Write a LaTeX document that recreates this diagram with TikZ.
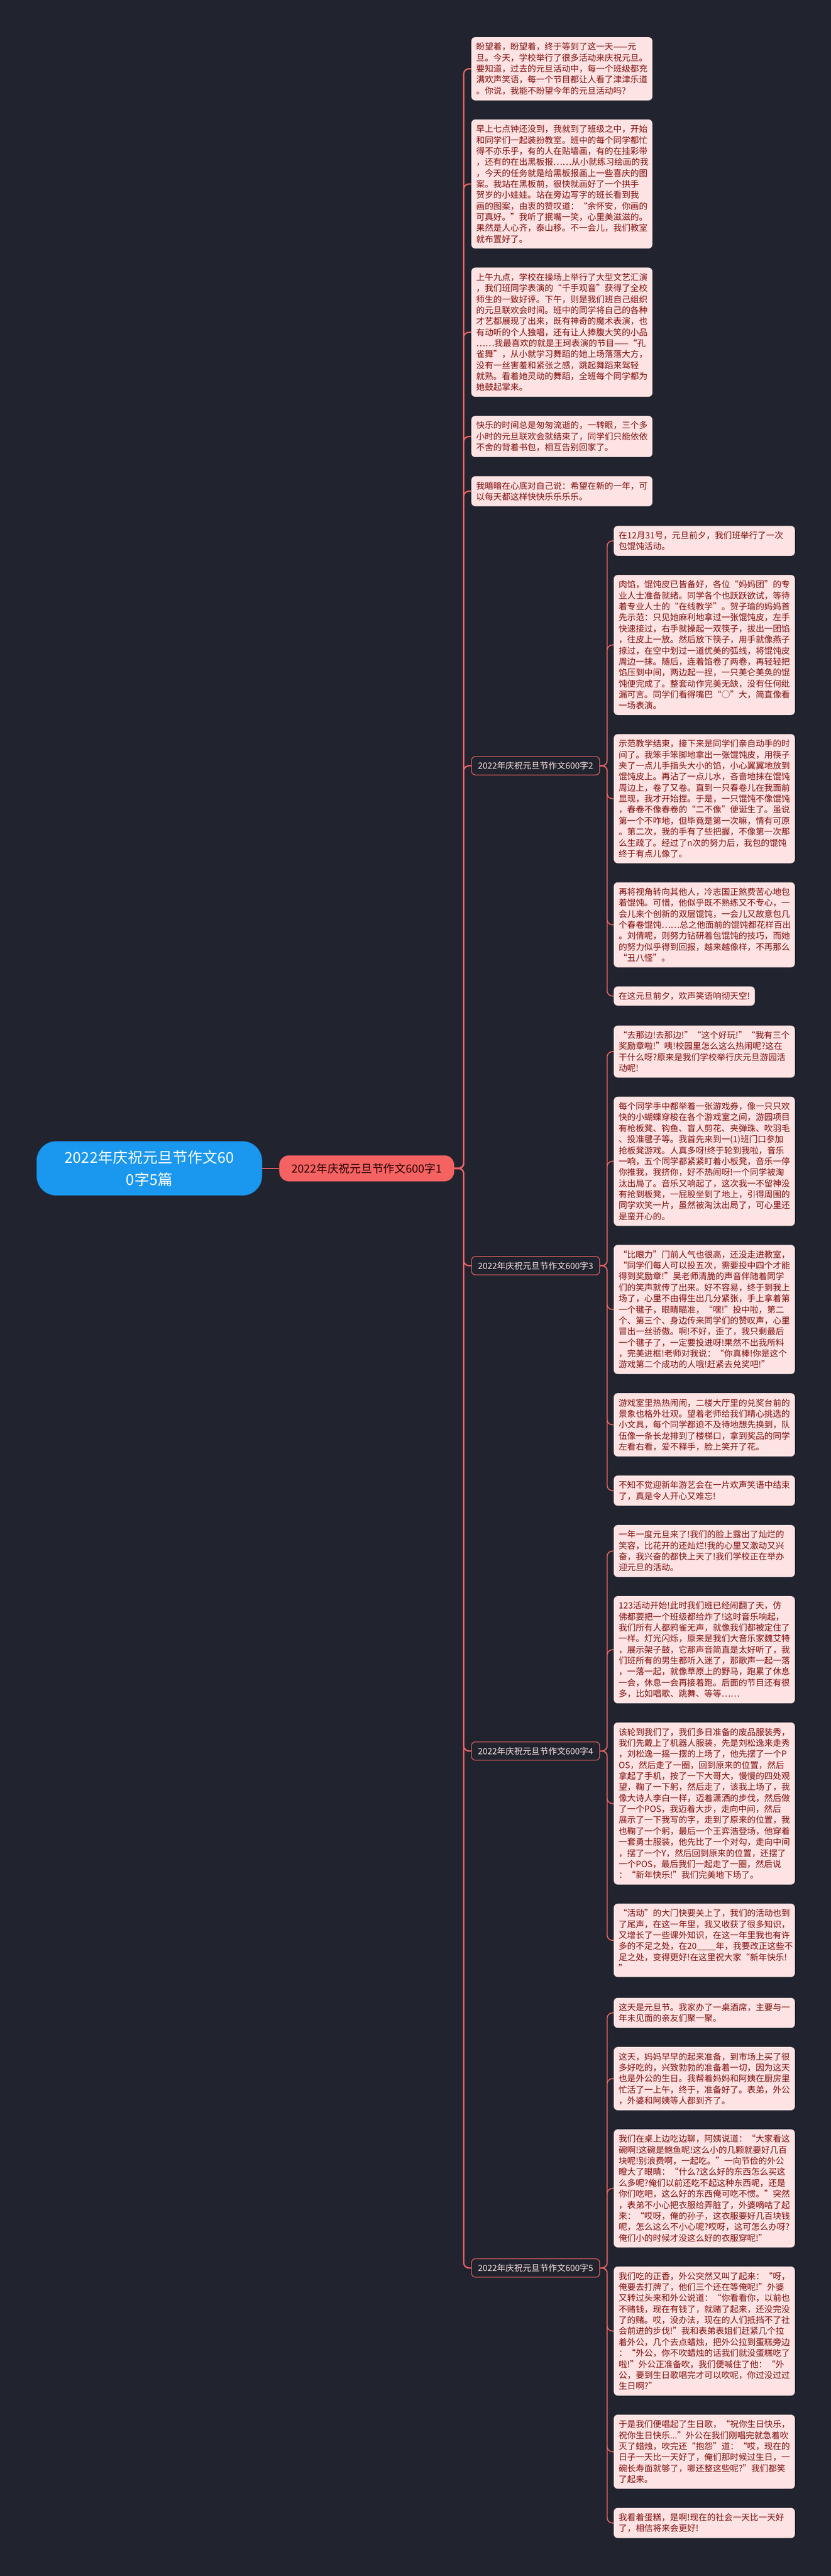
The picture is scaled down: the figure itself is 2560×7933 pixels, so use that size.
\documentclass[tikz,border=0pt]{standalone}
\usepackage{fontspec}
\setmainfont{Noto Sans CJK SC}
\usepackage{xcolor}
\usetikzlibrary{positioning}
\definecolor{bgdark}{HTML}{21242F}
\definecolor{leafpink}{HTML}{FDE3E3}
\definecolor{leaftext}{HTML}{800D0D}
\definecolor{linkred}{HTML}{EE6464}
\definecolor{mainred}{HTML}{F56262}
\definecolor{rootblue}{HTML}{1A97EE}
\begin{document}
\begin{tikzpicture}[x=0.5pt,y=-0.5pt,
    leafbase/.style={fill=leafpink,text=leaftext,rounded corners=6pt,inner xsep=7.5pt,inner ysep=8.5pt,align=left,font=\fontsize{13.2pt}{16.95pt}\selectfont},
    leaf/.style={leafbase,text width=264pt},
    sub/.style={draw=linkred,line width=1pt,fill=bgdark,text=leafpink,rounded corners=6pt,inner xsep=10pt,inner ysep=8pt,font=\fontsize{13.2pt}{16pt}\selectfont},
    mainnode/.style={fill=mainred,text=black!85!red,rounded corners=15pt,minimum width=269.5pt,minimum height=40pt,font=\fontsize{17.25pt}{20pt}\selectfont},
    rootnode/.style={fill=rootblue,draw=rootblue!60!black,text=white,rounded corners=30pt,minimum width=347.5pt,minimum height=83.5pt,align=center,font=\fontsize{23pt}{33.5pt}\selectfont}]
  \fill[bgdark] (0,0) rectangle (2560,7933);

  \node[leaf,anchor=north west] (a1) at (1452,114) {盼望着，盼望着，终于等到了这一天——元\\旦。今天，学校举行了很多活动来庆祝元旦。\\要知道，过去的元旦活动中，每一个班级都充\\满欢声笑语，每一个节目都让人看了津津乐道\\。你说，我能不盼望今年的元旦活动吗?};
  \node[leaf,below=29pt of a1.south west,anchor=north west] (a2) {早上七点钟还没到，我就到了班级之中，开始\\和同学们一起装扮教室。班中的每个同学都忙\\得不亦乐乎，有的人在贴墙画，有的在挂彩带\\，还有的在出黑板报……从小就练习绘画的我\\，今天的任务就是给黑板报画上一些喜庆的图\\案。我站在黑板前，很快就画好了一个拱手\\贺岁的小娃娃。站在旁边写字的班长看到我\\画的图案，由衷的赞叹道：“余怀安，你画的\\可真好。”我听了抿嘴一笑，心里美滋滋的。\\果然是人心齐，泰山移。不一会儿，我们教室\\就布置好了。};
  \node[leaf,below=29pt of a2.south west,anchor=north west] (a3) {上午九点，学校在操场上举行了大型文艺汇演\\，我们班同学表演的“千手观音”获得了全校\\师生的一致好评。下午，则是我们班自己组织\\的元旦联欢会时间。班中的同学将自己的各种\\才艺都展现了出来，既有神奇的魔术表演，也\\有动听的个人独唱，还有让人捧腹大笑的小品\\……我最喜欢的就是王珂表演的节目——“孔\\雀舞”，从小就学习舞蹈的她上场落落大方，\\没有一丝害羞和紧张之感，跳起舞蹈来驾轻\\就熟。看着她灵动的舞蹈，全班每个同学都为\\她鼓起掌来。};
  \node[leaf,below=29pt of a3.south west,anchor=north west] (a4) {快乐的时间总是匆匆流逝的，一转眼，三个多\\小时的元旦联欢会就结束了，同学们只能依依\\不舍的背着书包，相互告别回家了。};
  \node[leaf,below=29pt of a4.south west,anchor=north west] (a5) {我暗暗在心底对自己说：希望在新的一年，可\\以每天都这样快快乐乐乐乐。};

  \node[leaf,anchor=north west] (b1) at (1891,1619) {在12月31号，元旦前夕，我们班举行了一次\\包馄饨活动。};
  \node[leaf,below=29pt of b1.south west,anchor=north west] (b2) {肉馅，馄饨皮已皆备好，各位“妈妈团”的专\\业人士准备就绪。同学各个也跃跃欲试，等待\\着专业人士的“在线教学”。贺子瑜的妈妈首\\先示范：只见她麻利地拿过一张馄饨皮，左手\\快速接过，右手就操起一双筷子，拔出一团馅\\，往皮上一放。然后放下筷子，用手就像燕子\\掠过，在空中划过一道优美的弧线，将馄饨皮\\周边一抹。随后，连着馅卷了两卷，再轻轻把\\馅压到中间，两边起一捏，一只美仑美奂的馄\\饨便完成了。整套动作完美无缺，没有任何纰\\漏可言。同学们看得嘴巴“○”大，简直像看\\一场表演。};
  \node[leaf,below=29pt of b2.south west,anchor=north west] (b3) {示范教学结束，接下来是同学们亲自动手的时\\间了。我笨手笨脚地拿出一张馄饨皮，用筷子\\夹了一点儿手指头大小的馅，小心翼翼地放到\\馄饨皮上。再沾了一点儿水，吝啬地抹在馄饨\\周边上，卷了又卷。直到一只春卷儿在我面前\\显现，我才开始捏。于是，一只馄饨不像馄饨\\，春卷不像春卷的“二不像”便诞生了。虽说\\第一个不咋地，但毕竟是第一次嘛，情有可原\\。第二次，我的手有了些把握，不像第一次那\\么生疏了。经过了n次的努力后，我包的馄饨\\终于有点儿像了。};
  \node[leaf,below=29pt of b3.south west,anchor=north west] (b4) {再将视角转向其他人，冷志国正煞费苦心地包\\着馄饨。可惜，他似乎既不熟练又不专心，一\\会儿来个创新的双层馄饨，一会儿又故意包几\\个春卷馄饨……总之他面前的馄饨都花样百出\\。刘倩呢，则努力钻研着包馄饨的技巧，而她\\的努力似乎得到回报，越来越像样，不再那么\\“丑八怪”。};
  \node[leafbase,below=29pt of b4.south west,anchor=north west] (b5) {在这元旦前夕，欢声笑语响彻天空!};

  \node[leaf,anchor=north west] (c1) at (1891,3158) {“去那边!去那边!”“这个好玩!”“我有三个\\奖励章啦!”咦!校园里怎么这么热闹呢?这在\\干什么呀?原来是我们学校举行庆元旦游园活\\动呢!};
  \node[leaf,below=29pt of c1.south west,anchor=north west] (c2) {每个同学手中都举着一张游戏券，像一只只欢\\快的小蝴蝶穿梭在各个游戏室之间，游园项目\\有枪板凳、钩鱼、盲人剪花、夹弹珠、吹羽毛\\、投准毽子等。我首先来到一(1)班门口参加\\抢板凳游戏。人真多呀!终于轮到我啦，音乐\\一响，五个同学都紧紧盯着小板凳，音乐一停\\你推我，我挤你，好不热闹呀!一个同学被淘\\汰出局了。音乐又响起了，这次我一不留神没\\有抢到板凳，一屁股坐到了地上，引得周围的\\同学欢笑一片，虽然被淘汰出局了，可心里还\\是蛮开心的。};
  \node[leaf,below=29pt of c2.south west,anchor=north west] (c3) {“比眼力”门前人气也很高，还没走进教室，\\“同学们每人可以投五次，需要投中四个才能\\得到奖励章!”吴老师清脆的声音伴随着同学\\们的笑声就传了出来。好不容易，终于到我上\\场了，心里不由得生出几分紧张，手上拿着第\\一个毽子，眼睛瞄准，“嘿!”投中啦，第二\\个、第三个、身边传来同学们的赞叹声，心里\\冒出一丝骄傲。啊!不好，歪了，我只剩最后\\一个毽子了，一定要投进呀!果然不出我所料\\，完美进框!老师对我说：“你真棒!你是这个\\游戏第二个成功的人哦!赶紧去兑奖吧!”};
  \node[leaf,below=29pt of c3.south west,anchor=north west] (c4) {游戏室里热热闹闹，二楼大厅里的兑奖台前的\\景象也格外壮观。望着老师给我们精心挑选的\\小文具，每个同学都迫不及待地想先换到，队\\伍像一条长龙排到了楼梯口，拿到奖品的同学\\左看右看，爱不释手，脸上笑开了花。};
  \node[leaf,below=29pt of c4.south west,anchor=north west] (c5) {不知不觉迎新年游艺会在一片欢声笑语中结束\\了，真是令人开心又难忘!};

  \node[leaf,anchor=north west] (d1) at (1891,4696) {一年一度元旦来了!我们的脸上露出了灿烂的\\笑容，比花开的还灿烂!我的心里又激动又兴\\奋，我兴奋的都快上天了!我们学校正在举办\\迎元旦的活动。};
  \node[leaf,below=29pt of d1.south west,anchor=north west] (d2) {123活动开始!此时我们班已经闹翻了天，仿\\佛都要把一个班级都给炸了!这时音乐响起，\\我们所有人都鸦雀无声，就像我们都被定住了\\一样。灯光闪烁，原来是我们大音乐家魏艾特\\，展示架子鼓，它那声音简直是太好听了，我\\们班所有的男生都听入迷了，那歌声一起一落\\，一落一起，就像草原上的野马，跑累了休息\\一会，休息一会再接着跑。后面的节目还有很\\多，比如唱歌、跳舞、等等……};
  \node[leaf,below=29pt of d2.south west,anchor=north west] (d3) {该轮到我们了，我们多日准备的废品服装秀，\\我们先戴上了机器人服装，先是刘松逸来走秀\\，刘松逸一摇一摆的上场了，他先摆了一个P\\OS，然后走了一圈，回到原来的位置，然后\\拿起了手机，按了一下大哥大，慢慢的四处观\\望，鞠了一下躬，然后走了，该我上场了，我\\像大诗人李白一样，迈着潇洒的步伐，然后做\\了一个POS，我迈着大步，走向中间，然后\\展示了一下我写的字，走到了原来的位置，我\\也鞠了一个躬，最后一个王弈浩登场，他穿着\\一套勇士服装，他先比了一个对勾，走向中间\\，摆了一个Y，然后回到原来的位置，还摆了\\一个POS，最后我们一起走了一圈，然后说\\：“新年快乐!”我们完美地下场了。};
  \node[leaf,below=29pt of d3.south west,anchor=north west] (d4) {“活动”的大门快要关上了，我们的活动也到\\了尾声，在这一年里，我又收获了很多知识，\\又增长了一些课外知识，在这一年里我也有许\\多的不足之处，在20\_\_\_\_年，我要改正这些不\\足之处，变得更好!在这里祝大家“新年快乐!\\”};

  \node[leaf,anchor=north west] (e1) at (1891,6152) {这天是元旦节。我家办了一桌酒席，主要与一\\年未见面的亲友们聚一聚。};
  \node[leaf,below=29pt of e1.south west,anchor=north west] (e2) {这天，妈妈早早的起来准备，到市场上买了很\\多好吃的，兴致勃勃的准备着一切，因为这天\\也是外公的生日。我帮着妈妈和阿姨在厨房里\\忙活了一上午，终于，准备好了。表弟，外公\\，外婆和阿姨等人都到齐了。};
  \node[leaf,below=29pt of e2.south west,anchor=north west] (e3) {我们在桌上边吃边聊，阿姨说道：“大家看这\\碗啊!这碗是鲍鱼呢!这么小的几颗就要好几百\\块呢!别浪费啊，一起吃。”一向节俭的外公\\瞪大了眼睛：“什么?这么好的东西怎么买这\\么多呢?俺们以前还吃不起这种东西呢，还是\\你们吃吧，这么好的东西俺可吃不惯。”突然\\，表弟不小心把衣服给弄脏了，外婆嘀咕了起\\来：“哎呀，俺的孙子，这衣服要好几百块钱\\呢，怎么这么不小心呢?哎呀，这可怎么办呀?\\俺们小的时候才没这么好的衣服穿呢!”};
  \node[leaf,below=29pt of e3.south west,anchor=north west] (e4) {我们吃的正香，外公突然又叫了起来：“呀，\\俺要去打牌了，他们三个还在等俺呢!”外婆\\又转过头来和外公说道：“你看看你，以前也\\不赌钱，现在有钱了，就赌了起来，还没完没\\了的赌。哎，没办法，现在的人们抵挡不了社\\会前进的步伐!”我和表弟表姐们赶紧几个拉\\着外公，几个去点蜡烛，把外公拉到蛋糕旁边\\：“外公，你不吹蜡烛的话我们就没蛋糕吃了\\啦!”外公正准备吹，我们便喊住了他：“外\\公，要到生日歌唱完才可以吹呢，你过没过过\\生日啊?”};
  \node[leaf,below=29pt of e4.south west,anchor=north west] (e5) {于是我们便唱起了生日歌，“祝你生日快乐，\\祝你生日快乐...”外公在我们刚唱完就急着吹\\灭了蜡烛，吹完还“抱怨”道：“哎，现在的\\日子一天比一天好了，俺们那时候过生日，一\\碗长寿面就够了，哪还整这些呢?”我们都笑\\了起来。};
  \node[leaf,below=29pt of e5.south west,anchor=north west] (e6) {我看着蛋糕，是啊!现在的社会一天比一天好\\了，相信将来会更好!};

  \path (b1.north) -- (b5.south) coordinate[midway] (m2);
  \path (c1.north) -- (c5.south) coordinate[midway] (m3);
  \path (d1.north) -- (d4.south) coordinate[midway] (m4);
  \path (e1.north) -- (e6.south) coordinate[midway] (m5);
  \node[sub,anchor=west] (s2) at (a1.west |- m2) {2022年庆祝元旦节作文600字2};
  \node[sub,anchor=west] (s3) at (a1.west |- m3) {2022年庆祝元旦节作文600字3};
  \node[sub,anchor=west] (s4) at (a1.west |- m4) {2022年庆祝元旦节作文600字4};
  \node[sub,anchor=west] (s5) at (a1.west |- m5) {2022年庆祝元旦节作文600字5};

  \path (a1.west) -- (s5.west) coordinate[midway] (m1);
  \coordinate (rx) at (1130,0);
  \node[mainnode] (s1) at (rx |- m1) {2022年庆祝元旦节作文600字1};
  \node[rootnode,left=26pt of s1] (r) {2022年庆祝元旦节作文60\\0字5篇};

  \tikzset{link/.style={draw=linkred,line width=2pt,rounded corners=8pt}}
  \draw[link] (r) -- (s1);
  \foreach \c in {a1,a2,a3,a4,a5,s2,s3,s4,s5}
    \draw[link] (s1.east) -| ([xshift=-11.5pt]\c.west) -- (\c.west);
  \tikzset{link/.style={draw=linkred,line width=1.5pt,rounded corners=8pt}}
  \foreach \c in {b1,b2,b3,b4,b5}
    \draw[link] (s2.east) -| ([xshift=-10pt]\c.west) -- (\c.west);
  \foreach \c in {c1,c2,c3,c4,c5}
    \draw[link] (s3.east) -| ([xshift=-10pt]\c.west) -- (\c.west);
  \foreach \c in {d1,d2,d3,d4}
    \draw[link] (s4.east) -| ([xshift=-10pt]\c.west) -- (\c.west);
  \foreach \c in {e1,e2,e3,e4,e5,e6}
    \draw[link] (s5.east) -| ([xshift=-10pt]\c.west) -- (\c.west);
\end{tikzpicture}
\end{document}
